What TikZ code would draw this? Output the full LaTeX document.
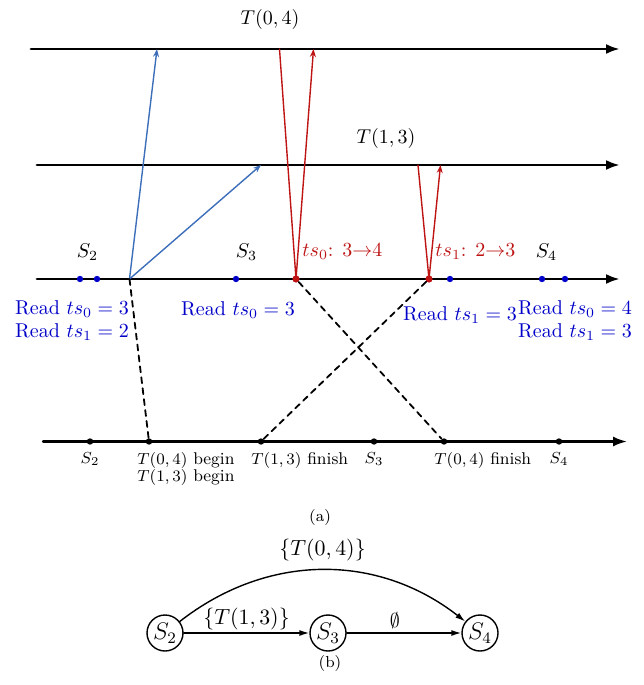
\documentclass[tikz,border=0pt]{standalone}
\usetikzlibrary{arrows.meta}
\definecolor{tsblue}{RGB}{0,0,200}
\definecolor{msgblue}{RGB}{60,110,185}
\definecolor{tsred}{RGB}{190,20,20}
\begin{document}
\begin{tikzpicture}[x=0.5pt,y=-0.5pt,line cap=round,line join=round,
  axis/.style={line width=1.4pt,-{Latex[length=7pt,width=5pt]}},
  msgb/.style={msgblue,line width=0.7pt,-{Stealth[length=4pt,width=3pt]}},
  msgr/.style={tsred,line width=0.7pt},
  link/.style={line width=0.9pt,dash pattern=on 3pt off 2.5pt},
  bdot/.style={circle,fill=tsblue,inner sep=0pt,minimum size=3.2pt},
  rdot/.style={circle,fill=tsred,inner sep=0pt,minimum size=3.6pt},
  kdot/.style={circle,fill=black,inner sep=0pt,minimum size=3.2pt},
  rdlab/.style={tsblue,align=center,inner sep=0pt},
  wrlab/.style={tsred,anchor=west,inner sep=0pt},
  evlab/.style={font=\fontsize{8.5}{8.5}\selectfont,anchor=north,inner sep=0pt,align=left},
  state/.style={circle,draw,line width=0.7pt,minimum size=18pt,inner sep=0pt,font=\large},
  trans/.style={line width=0.7pt,-{Latex[length=5pt,width=3pt]}},
  tlab/.style={font=\fontsize{11}{13}\selectfont}]
  \useasboundingbox (0,0) rectangle (643,685);
  % (a) timelines
  \coordinate (t0s) at (31,49);   \coordinate (t0e) at (620,49);
  \coordinate (t1s) at (37,165);  \coordinate (t1e) at (620,165);
  \coordinate (mns) at (37,279);  \coordinate (mne) at (620,279);
  \coordinate (evs) at (43,441.5); \coordinate (eve) at (627,441.5);
  \draw[axis] (t0s) -- (t0e);
  \draw[axis] (t1s) -- (t1e);
  \draw[axis] (mns) -- (mne);
  \draw[axis,line width=1.1pt] (evs) -- (eve);
  \node (tx0) at (270,20) {$T(0,4)$};
  \node (tx1) at (386,138) {$T(1,3)$};
  % messages
  \coordinate (src) at (129.5,279);
  \coordinate (hit0) at (157,49);
  \coordinate (hit1) at (261,165);
  \coordinate (up0) at (279.5,49);  \coordinate (tip0) at (313.5,49);
  \coordinate (up1) at (418,165);   \coordinate (tip1) at (440.5,165);
  \draw[msgb] (src) -- (hit0);
  \draw[msgb] (src) -- (hit1);
  \node[bdot] (r1) at (80,279) {};
  \node[bdot] (r2) at (97,279) {};
  \node[bdot] (r3) at (236,279) {};
  \node[rdot] (w0) at (296,279) {};
  \node[rdot] (w1) at (429,279) {};
  \node[bdot] (r4) at (450,279) {};
  \node[bdot] (r5) at (542,279) {};
  \node[bdot] (r6) at (565,279) {};
  \draw[msgr] (up0) -- (w0.center);
  \draw[msgr,-{Stealth[length=4pt,width=3pt]}] (w0.center) -- (tip0);
  \draw[msgr] (up1) -- (w1.center);
  \draw[msgr,-{Stealth[length=4pt,width=3pt]}] (w1.center) -- (tip1);
  \node (ls2) at (87.5,252) {$S_2$};
  \node (ls3) at (246.5,252) {$S_3$};
  \node (ls4) at (546.5,252) {$S_4$};
  \node[wrlab] (wl0) at (302,252) {$ts_0$: $3{\to}4$};
  \node[wrlab] (wl1) at (435,252) {$ts_1$: $2{\to}3$};
  \node[rdlab] (rl1) at (72,321) {Read $ts_0=3$\\[-0.5pt]Read $ts_1=2$};
  \node[rdlab] (rl2) at (238,310) {Read $ts_0=3$};
  \node[rdlab] (rl3) at (460,315) {Read $ts_1=3$};
  \node[rdlab] (rl4) at (575,321) {Read $ts_0=4$\\[-0.5pt]Read $ts_1=3$};
  % event order
  \node[kdot] (e1) at (90,441.5) {};
  \node[kdot] (e2) at (149,441.5) {};
  \node[kdot] (e3) at (261,441.5) {};
  \node[kdot] (e4) at (374,441.5) {};
  \node[kdot] (e5) at (444,441.5) {};
  \node[kdot] (e6) at (559,441.5) {};
  \draw[link] (src) -- (e2);
  \draw[link] (w0) -- (e5);
  \draw[link] (w1) -- (e3);
  \node[evlab] (el1) at (90,452) {$S_2$};
  \node[evlab,anchor=north west] (el2) at (137,452) {$T(0,4)$ begin\\$T(1,3)$ begin};
  \node[evlab,anchor=north west] (el3) at (251,452) {$T(1,3)$ finish};
  \node[evlab] (el4) at (374,452) {$S_3$};
  \node[evlab,anchor=north west] (el5) at (434,452) {$T(0,4)$ finish};
  \node[evlab] (el6) at (559,452) {$S_4$};
  \node[font=\footnotesize] (capa) at (320,517) {(a)};
  % (b) graph
  \node[state] (S2) at (165,633) {$S_2$};
  \node[state] (S3) at (328,633) {$S_3$};
  \node[state] (S4) at (480,633) {$S_4$};
  \draw[trans] (S2) -- node[above,tlab,inner sep=1pt] {$\{T(1,3)\}$} (S3);
  \draw[trans] (S3) -- node[above,pos=0.42,inner sep=2pt] {$\emptyset$} (S4);
  \draw[trans] (S2) to[bend left=38] node[above,tlab,inner sep=4pt] {$\{T(0,4)\}$} (S4);
  \node[font=\footnotesize] (capb) at (330,663) {(b)};
\end{tikzpicture}
\end{document}
